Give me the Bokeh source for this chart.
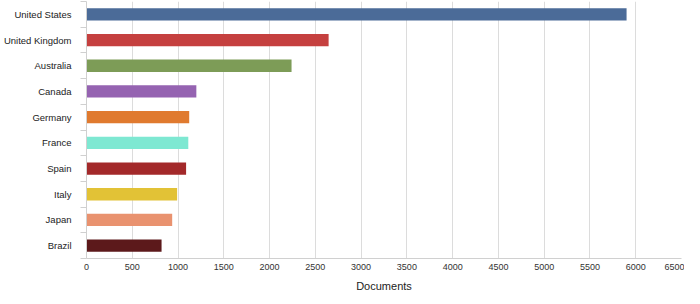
from bokeh.plotting import figure
from bokeh.models import Range1d, FixedTicker
from bokeh.embed import file_html
from bokeh.resources import INLINE

countries = ["United States", "United Kingdom", "Australia", "Canada", "Germany",
             "France", "Spain", "Italy", "Japan", "Brazil"]
documents = [5900, 2645, 2240, 1200, 1122, 1112, 1088, 990, 936, 820]
colors = ["#4b6b98", "#c5403f", "#7d9c57", "#9563b1", "#e07a2f",
          "#7ee8d2", "#a3292a", "#e2c236", "#e9926f", "#5c191b"]
x_ticks = [0, 500, 1000, 1500, 2000, 2500, 3000, 3500, 4000, 4500, 5000, 5500, 6000, 6500]

n = len(countries)
ypos = [n - 1 - i + 0.5 for i in range(n)]
boundaries = list(range(0, n + 1))

p = figure(width=684, height=294, output_backend="svg", toolbar_location=None,
           x_range=Range1d(0, 6500), y_range=Range1d(0, n),
           min_border_left=0, min_border_right=3, min_border_top=1, min_border_bottom=0)
p.outline_line_color = None
p.background_fill_color = "white"
p.border_fill_color = "white"

p.hbar(y=ypos, left=0, right=documents, height=0.48, fill_color=colors, line_color=None)

# x axis
p.xaxis.ticker = FixedTicker(ticks=x_ticks)
p.xaxis.axis_label = "Documents"
p.xaxis.axis_label_text_font = "Liberation Sans"
p.xaxis.axis_label_text_font_size = "11px"
p.xaxis.axis_label_text_font_style = "normal"
p.xaxis.axis_label_text_color = "#222222"
p.xaxis.axis_label_standoff = 7
p.xaxis.major_label_text_font = "Liberation Sans"
p.xaxis.major_label_text_font_size = "9px"
p.xaxis.major_label_text_color = "#333333"
p.xaxis.major_label_standoff = 5
p.xaxis.major_tick_out = 0
p.xaxis.major_tick_in = 0
p.xaxis.minor_tick_out = 0
p.xaxis.minor_tick_in = 0
p.xaxis.axis_line_color = "#d0d0d0"

# y axis
p.yaxis.ticker = FixedTicker(ticks=ypos, minor_ticks=boundaries)
p.yaxis.major_label_overrides = {y: c for y, c in zip(ypos, countries)}
p.yaxis.major_label_text_font = "Liberation Sans"
p.yaxis.major_label_text_font_size = "9.5px"
p.yaxis.major_label_text_color = "#222222"
p.yaxis.major_label_standoff = 9
p.yaxis.major_tick_out = 0
p.yaxis.major_tick_in = 0
p.yaxis.minor_tick_out = 6
p.yaxis.minor_tick_in = 0
p.yaxis.minor_tick_line_color = "#d0d0d0"
p.yaxis.axis_line_color = "#d0d0d0"

p.xgrid.ticker = FixedTicker(ticks=x_ticks)
p.xgrid.grid_line_color = "#dcdcdc"
p.ygrid.grid_line_color = None

open("out.html", "w").write(file_html(p, INLINE))
